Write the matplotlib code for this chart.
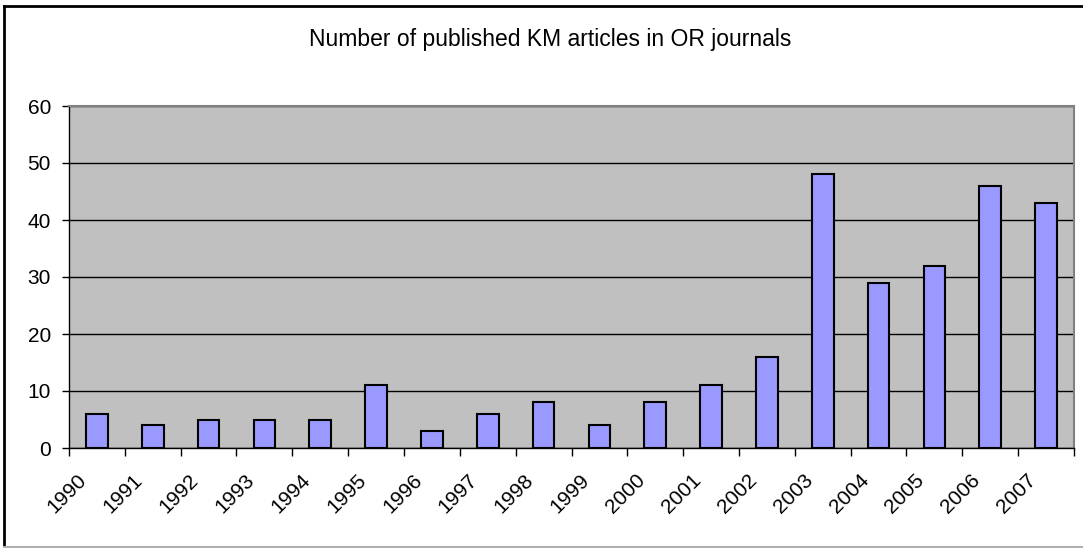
import matplotlib
matplotlib.use('Agg')
import matplotlib.pyplot as plt
import matplotlib.transforms as mtransforms
from matplotlib.lines import Line2D
import numpy as np

plt.rcParams['font.family'] = ['Liberation Sans', 'DejaVu Sans']

years = ['1990', '1991', '1992', '1993', '1994', '1995', '1996', '1997', '1998',
         '1999', '2000', '2001', '2002', '2003', '2004', '2005', '2006', '2007']
articles = [6, 4, 5, 5, 5, 11, 3, 6, 8, 4, 8, 11, 16, 48, 29, 32, 46, 43]
yticks = [0, 10, 20, 30, 40, 50, 60]

fig = plt.figure(figsize=(10.83, 5.48), dpi=100)
ax = fig.add_axes([69 / 1083, 100 / 548, 1005 / 1083, 342 / 548])
ax.set_facecolor('#c0c0c0')

x = np.arange(len(years))
ax.bar(x, articles, width=0.39, color='#9999ff', edgecolor='black', linewidth=1.5, zorder=3)

ax.set_xlim(-0.5, len(years) - 0.5)
ax.set_ylim(0, 60)
ax.set_yticks(yticks)
ax.yaxis.grid(True, color='black', linewidth=1, zorder=1)
ax.set_axisbelow(True)
ax.tick_params(axis='y', length=5, width=1, direction='out', labelsize=15, pad=8)

# ticks at the category boundaries, labels at the centres
ax.set_xticks(np.arange(-0.5, len(years), 1.0), minor=True)
ax.set_xticks(x)
ax.set_xticklabels(years, rotation=45, ha='right', va='center', rotation_mode='anchor')
ax.tick_params(axis='x', which='minor', length=5.5, width=1, direction='out')
ax.tick_params(axis='x', which='major', length=0, labelsize=15, pad=21)
offset = mtransforms.ScaledTranslation(-0.13, 0, fig.dpi_scale_trans)
for lab in ax.get_xticklabels():
    lab.set_transform(lab.get_transform() + offset)

for side in ['top', 'right']:
    ax.spines[side].set_color('#808080')
    ax.spines[side].set_linewidth(1.5)
for side in ['left', 'bottom']:
    ax.spines[side].set_color('black')
    ax.spines[side].set_linewidth(1)

fig.text(550 / 1083, 1 - 46 / 548, 'Number of published KM articles in OR journals',
         ha='center', va='baseline', fontsize=16.5)

# chart frame
fig.add_artist(Line2D([4 / 1083, 4 / 1083], [0, 1 - 6 / 548], color='black', linewidth=2))
fig.add_artist(Line2D([4 / 1083, 1], [1 - 6 / 548, 1 - 6 / 548], color='black', linewidth=2))
fig.add_artist(Line2D([4 / 1083, 1], [1 / 548, 1 / 548], color='#b0b0b0', linewidth=1.5))

fig.savefig('out.png', dpi=100)
